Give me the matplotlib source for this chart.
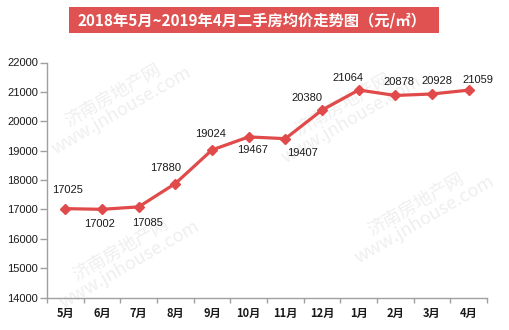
import matplotlib
matplotlib.use("Agg")
import matplotlib.pyplot as plt
from matplotlib.patches import Rectangle
import numpy as np

plt.rcParams['font.family'] = ['Noto Sans CJK SC', 'DejaVu Sans']

months = ["5月", "6月", "7月", "8月", "9月", "10月", "11月", "12月", "1月", "2月", "3月", "4月"]
prices = [17025, 17002, 17085, 17880, 19024, 19467, 19407, 20380, 21064, 20878, 20928, 21059]
yticks = [14000, 15000, 16000, 17000, 18000, 19000, 20000, 21000, 22000]
title = "2018年5月~2019年4月二手房均价走势图（元/㎡）"

# label offsets from each point, in pixels (dx, dy)
label_offsets = [(2, 19), (-2, -15), (9, -16), (-10, 16), (-1, 16), (4, -13),
                 (17, -14), (-15, 12), (-11, 12), (4, 13), (5, 13), (9, 10)]

W, H = 510, 330
fig = plt.figure(figsize=(W / 100, H / 100), dpi=100)
ax = fig.add_axes([47 / W, 1 - 297.5 / H, 440 / W, 235 / H])

# faint site watermark, kept behind the chart
for (cx, cy) in [(117, 103), (347, 112), (125, 257), (420, 212)]:
    fig.text(cx / W, 1 - cy / H, "济南房地产网\nwww.jnhouse.com", rotation=30,
             fontsize=13, color="#efefef", ha="center", va="center", zorder=-5,
             linespacing=1.05)

line_color = "#e04a4a"
x = np.arange(len(months))
ax.plot(x, prices, color=line_color, lw=2.3, marker="D", ms=5.5, zorder=3)

for xi, v, (dx, dy) in zip(x, prices, label_offsets):
    ax.annotate(str(v), (xi, v), xytext=(dx, dy), textcoords="offset pixels",
                ha="center", va="center", fontsize=8, color="#1a1a1a",
                family="Liberation Sans")

ax.set_xlim(-0.5, len(months) - 0.5)
ax.set_ylim(14000, 22000)
ax.set_yticks(yticks)
ax.set_yticklabels([str(t) for t in yticks], fontsize=8, family="Liberation Sans",
                   color="#1a1a1a")
ax.set_xticks(x)
ax.set_xticklabels(months, fontsize=8, fontweight="bold", color="#1a1a1a")
ax.set_xticks(np.arange(-0.5, len(months)), minor=True)
ax.tick_params(axis="x", which="major", length=0, pad=6.5)
ax.tick_params(axis="x", which="minor", length=3.5, color="#a0a0a0", width=1)
ax.tick_params(axis="y", length=5, color="#a0a0a0", width=1, pad=1.5)

for s in ["top", "right"]:
    ax.spines[s].set_visible(False)
for s in ["left", "bottom"]:
    ax.spines[s].set_color("#a0a0a0")
    ax.spines[s].set_linewidth(1)
ax.patch.set_alpha(0)

fig.patches.append(Rectangle((69 / W, 1 - 33 / H), 370 / W, 26 / H,
                             transform=fig.transFigure, fc="#e05252", ec="none",
                             zorder=1))
fig.text(252 / W, 1 - 20 / H, title, ha="center", va="center", fontsize=11,
         fontweight="bold", color="white", zorder=2)

fig.savefig("out.png", dpi=100)
